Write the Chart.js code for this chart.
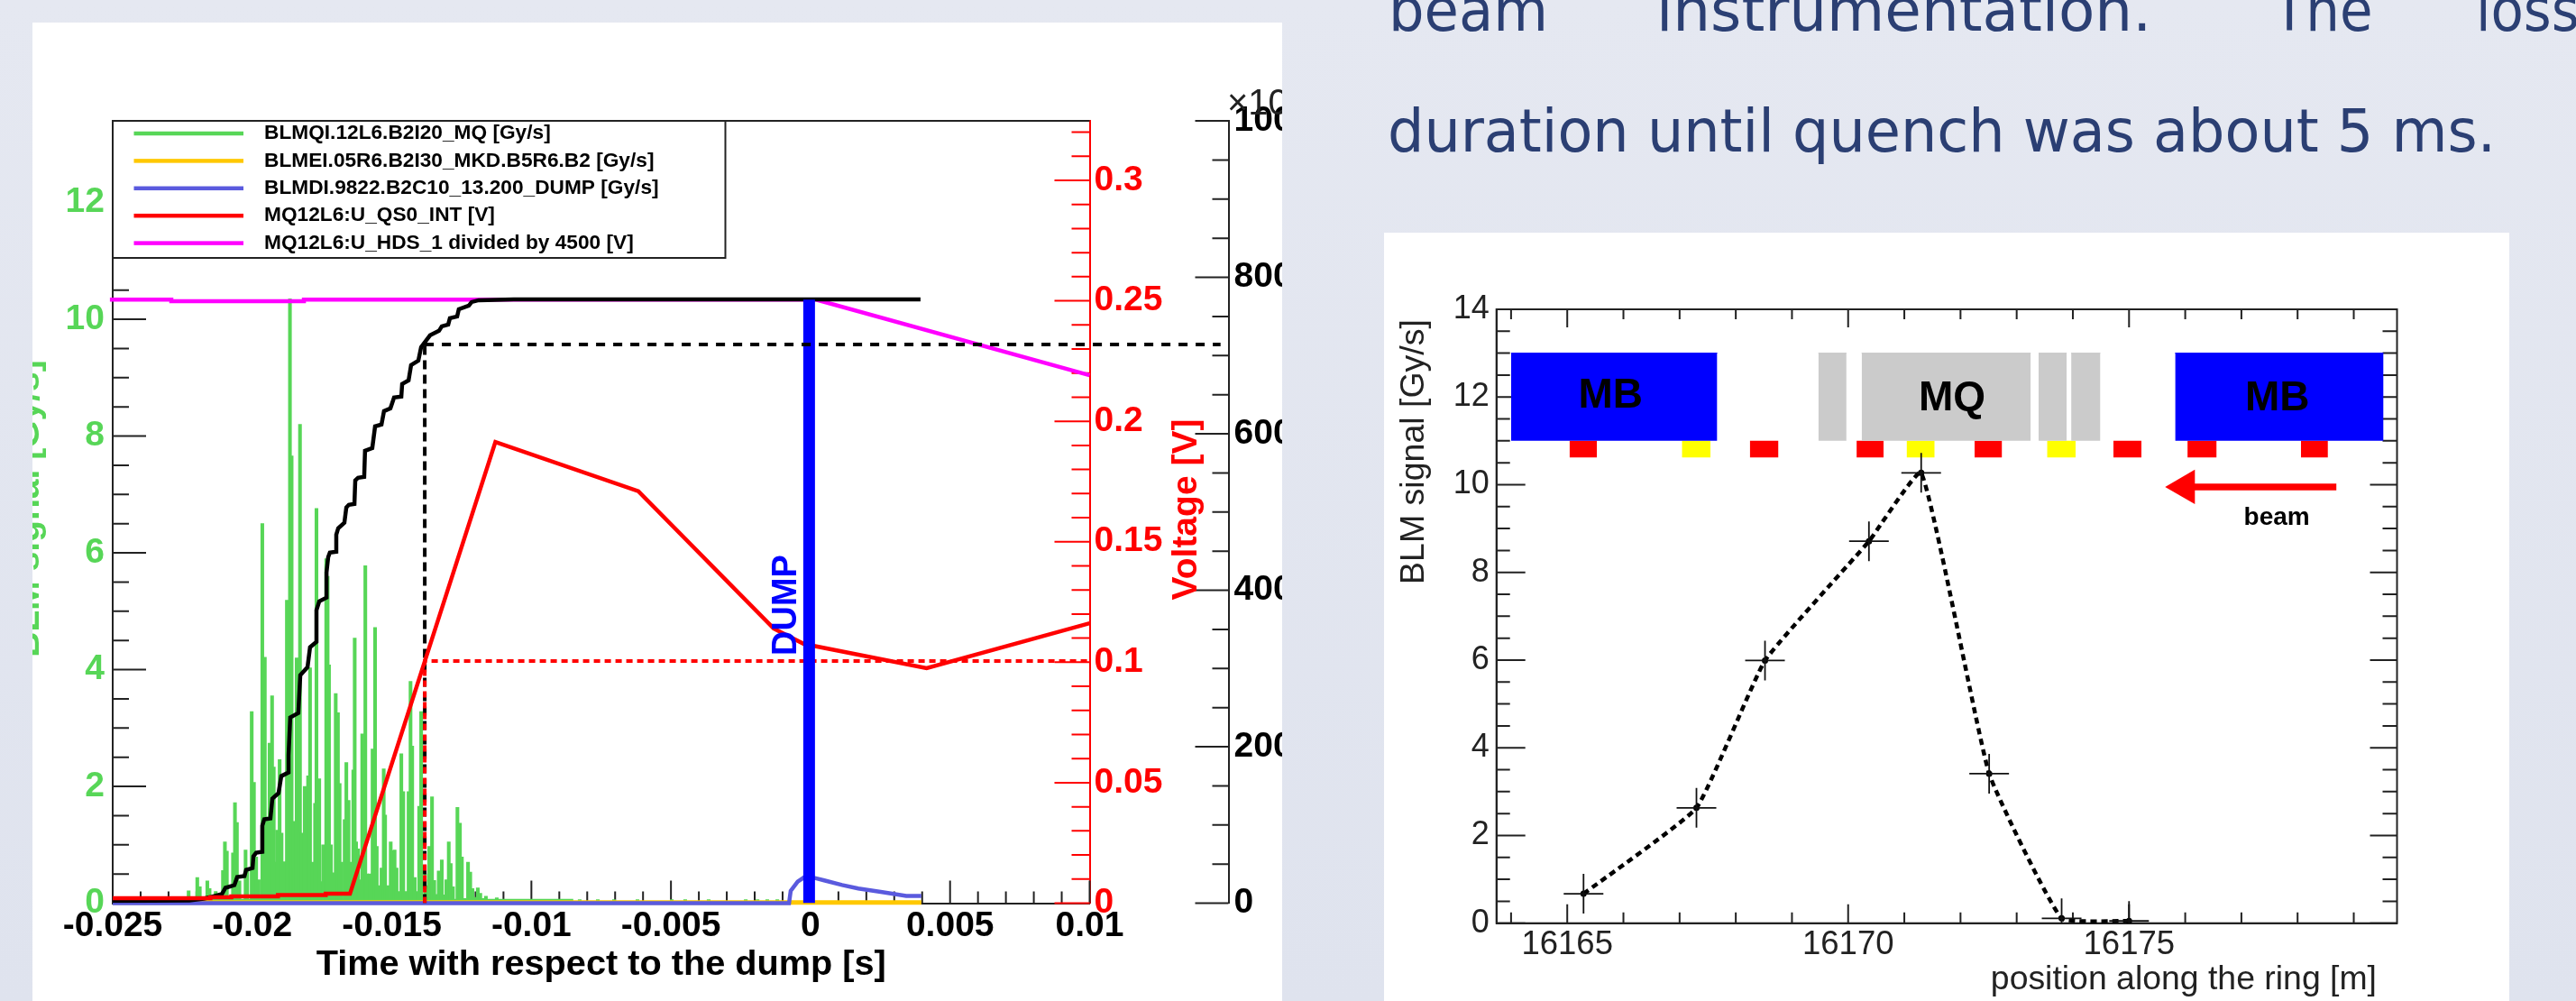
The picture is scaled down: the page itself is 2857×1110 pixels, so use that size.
<!DOCTYPE html>
<html>
<head>
<meta charset="utf-8">
<title>BLM signal and voltage at the quench</title>
<script src="https://cdn.jsdelivr.net/npm/chart.js@4"></script>
<style>
  html, body { margin: 0; padding: 0; }
  body { position: relative; width: 2857px; height: 1110px; overflow: hidden; background: linear-gradient(#e5e8f1, #dfe3ee); }
  canvas { position: absolute; background: #fff; filter: blur(0.6px); }
  #timeChart { left: 36px; top: 25px; }
  #ringChart { left: 1535px; top: 258px; }
  .slide { position: absolute; font: 66px/80px "DejaVu Sans"; font-stretch: condensed; color: #2b3f73; white-space: nowrap; transform-origin: left; }
</style>
</head>
<body>
<span class="slide" style="left:1540px;top:-28px;transform:scaleX(1.05)">beam</span>
<span class="slide" style="left:1837px;top:-28px;transform:scaleX(1.11)">instrumentation.</span>
<span class="slide" style="left:2521px;top:-28px">The</span>
<span class="slide" style="left:2746px;top:-28px">loss</span>
<span class="slide" style="left:1539px;top:106px;transform:scaleX(1.0714)">duration until quench was about 5 ms.</span>
<canvas id="timeChart" width="1386" height="1085"></canvas>
<canvas id="ringChart" width="1248" height="852"></canvas>
<script>
// left plot: time around the dump
const timeTickLabels = ['-0.025', '-0.02', '-0.015', '-0.01', '-0.005', '0', '0.005', '0.01'];
const doseTickLabels = ['0', '2', '4', '6', '8', '10', '12'];
const voltTickLabels = ['0', '0.05', '0.1', '0.15', '0.2', '0.25', '0.3'];
const sumTickLabels = ['0', '200', '400', '600', '800', '1000'];

const legendNames = [
    'BLMQI.12L6.B2I20_MQ [Gy/s]',
    'BLMEI.05R6.B2I30_MKD.B5R6.B2 [Gy/s]',
    'BLMDI.9822.B2C10_13.200_DUMP [Gy/s]',
    'MQ12L6:U_QS0_INT [V]',
    'MQ12L6:U_HDS_1 divided by 4500 [V]'
];
const legendColors = ['#57d657', '#ffc800', '#5a5ade', '#ff0000', '#ff00ff'];

const greenTimes = [
    -0.02228, -0.02197, -0.02188, -0.02161, -0.02153, -0.02131, -0.02105, -0.02098, -0.02091, -0.02069,
    -0.02062, -0.02055, -0.02046, -0.02024, -0.02018, -0.02002, -0.01994, -0.01986, -0.01977, -0.01964,
    -0.01955, -0.01948, -0.01938, -0.01929, -0.01923, -0.01915, -0.01911, -0.01902, -0.01895, -0.01886,
    -0.01876, -0.01865, -0.01859, -0.01852, -0.01848, -0.01841, -0.01829, -0.01822, -0.01812, -0.01800,
    -0.01793, -0.01785, -0.01775, -0.01770, -0.01760, -0.01754, -0.01746, -0.01735, -0.01730, -0.01725,
    -0.01718, -0.01712, -0.01701, -0.01693, -0.01687, -0.01680, -0.01669, -0.01663, -0.01655, -0.01647,
    -0.01638, -0.01633, -0.01628, -0.01621, -0.01615, -0.01606, -0.01600, -0.01595, -0.01589, -0.01579,
    -0.01569, -0.01560, -0.01554, -0.01545, -0.01537, -0.01529, -0.01524, -0.01515, -0.01504, -0.01497,
    -0.01490, -0.01483, -0.01474, -0.01466, -0.01459, -0.01450, -0.01440, -0.01433, -0.01427, -0.01418,
    -0.01408, -0.01402, -0.01395, -0.01389, -0.01381, -0.01376, -0.01366, -0.01356, -0.01348, -0.01340,
    -0.01332, -0.01321, -0.01312, -0.01305, -0.01296, -0.01289, -0.01281, -0.01273, -0.01265, -0.01256,
    -0.01249, -0.01240, -0.01227, -0.01219, -0.01211, -0.01201, -0.01192, -0.01183, -0.01172, -0.01163,
    -0.01143, -0.01124, -0.01108, -0.00827, -0.00762, -0.00704, -0.00620, -0.00497, -0.00449, -0.00365,
    -0.00232, -0.00190, -0.00155, -0.00119
];
const greenValues = [
    0.21, 0.44, 0.28, 0.38, 0.25, 0.2, 0.56, 1.05, 0.89, 0.86,
    1.72, 1.38, 0.38, 0.91, 0.58, 3.28, 2.07, 0.79, 0.4, 6.5,
    4.21, 1.45, 2.74, 3.55, 2.33, 0.7, 1.25, 2.46, 1.2, 0.71,
    5.19, 10.35, 7.66, 1.4, 0.6, 4.2, 8.2, 1.2, 2.0, 2.18,
    4.03, 0.7, 1.71, 6.76, 2.13, 0.37, 1.0, 5.9, 5.6, 4.08,
    1.0, 0.52, 3.59, 3.26, 2.05, 0.7, 1.43, 2.41, 1.76, 0.7,
    2.28, 4.54, 1.05, 0.93, 0.4, 2.9, 0.7, 5.78, 0.5, 0.5,
    2.64, 4.72, 0.97, 0.3, 0.6, 2.3, 1.51, 0.3, 1.05, 0.9,
    0.91, 0.6, 0.2, 2.56, 1.91, 0.2, 1.91, 3.8, 2.69, 0.44,
    0.2, 1.66, 3.28, 0.05, 0.5, 0.3, 0.97, 1.82, 0.39, 0.15,
    0.55, 0.74, 0.14, 0.4, 1.05, 0.68, 0.28, 0.06, 1.64, 1.37,
    0.79, 0.08, 0.7, 0.53, 0.25, 0.1, 0.26, 0.17, 0.08, 0.12,
    0.06, 0.09, 0.05, 0.06, 0.06, 0.06, 0.06, 0.06, 0.06, 0.06,
    0.06, 0.06, 0.06, 0.06
];
const greenBaseTimes = [-0.0223, -0.0085];
const greenBaseValues = [0.05, 0.05];

const yellowTimes = [-0.025, 0.00397];
const yellowValues = [0.01, 0.01];

const blueTimes = [-0.025, -0.00077, -0.00071, -0.00046, -0.00024, 0.00016, 0.00049, 0.00113, 0.00171, 0.00257, 0.00343, 0.00397];
const blueValues = [0, 0, 0.21, 0.37, 0.44, 0.43, 0.39, 0.31, 0.25, 0.19, 0.125, 0.125];

const redTimes = [-0.025, -0.02150, -0.02150, -0.02075, -0.02075, -0.01908, -0.01908, -0.01737, -0.01737, -0.01650, -0.01129, -0.00617, -0.00132, -0.00024, 0.00416, 0.01];
const redValues = [0.0021, 0.0021, 0.0024, 0.0024, 0.0028, 0.0028, 0.0034, 0.0034, 0.0039, 0.0039, 0.1914, 0.1710, 0.1140, 0.1076, 0.0975, 0.1162];

const magentaTimes = [-0.0251, -0.0229, -0.0229, -0.01815, -0.01815, 0.0002, 0.01];
const magentaValues = [0.2505, 0.2505, 0.2498, 0.2498, 0.2505, 0.2505, 0.2191];

const sumTimes = [
    -0.025, -0.02225, -0.02174, -0.02145, -0.02109, -0.02096, -0.02064, -0.02054, -0.02028, -0.02022,
    -0.01999, -0.01996, -0.01986, -0.01964, -0.01964, -0.01957, -0.01935, -0.01928, -0.01906, -0.01896,
    -0.01870, -0.01870, -0.01864, -0.01835, -0.01828, -0.01802, -0.01793, -0.01770, -0.01770, -0.01760,
    -0.01734, -0.01734, -0.01728, -0.01722, -0.01699, -0.01699, -0.01692, -0.01670, -0.01663, -0.01654,
    -0.01634, -0.01631, -0.01621, -0.01599, -0.01596, -0.01570, -0.01560, -0.01537, -0.01528, -0.01505,
    -0.01492, -0.01466, -0.01463, -0.01440, -0.01431, -0.01405, -0.01395, -0.01363, -0.01331, -0.01321,
    -0.01298, -0.01292, -0.01266, -0.01260, -0.01224, -0.01214, -0.01189, -0.01063, 0.00394
];
const sumValues = [
    2.9, 3.5, 5.8, 8.1, 11.5, 19.6, 23, 33.4, 34.6, 42.6,
    44.9, 59.9, 64.5, 65.7, 99.1, 107.1, 108.3, 133.6, 140.6, 162.4,
    167, 188.9, 237.3, 243.1, 291.5, 301.8, 327.2, 334.1, 374.4, 385.9,
    390.6, 422.8, 442.4, 448.2, 449.3, 471.2, 479.3, 486.2, 505.8, 509.2,
    510.4, 540.3, 543.8, 544.9, 578.3, 581.8, 609.4, 611.8, 629, 632.5,
    646.3, 647.5, 663.6, 668.2, 687.8, 693.5, 710.8, 725.8, 731.6, 737.3,
    739.6, 747.7, 750, 759.2, 763.8, 768.4, 770.7, 771.9, 771.9
];

const quenchTime = -0.01382;
const quenchVoltage = 0.1005;
const quenchSum = 714;
const sumGuideEnd = 0.01469;
const dumpTime = -0.00005;
const dumpTop = 0.2505;

// right plot: position along the ring
const posTickLabels = ['16165', '16170', '16175'];
const signalTickLabels = ['0', '2', '4', '6', '8', '10', '12', '14'];
const blmPositions = [16165.29, 16167.3, 16168.52, 16170.37, 16171.3, 16172.51, 16173.8, 16175];
const blmSignals = [0.67, 2.63, 5.99, 8.71, 10.27, 3.41, 0.11, 0.05];

const magnetStarts = [16164.0, 16169.47, 16170.24, 16173.39, 16173.97, 16175.82];
const magnetEnds = [16167.67, 16169.97, 16173.25, 16173.89, 16174.49, 16179.53];
const magnetColors = ['#0000ff', '#cbcbcb', '#cbcbcb', '#cbcbcb', '#cbcbcb', '#0000ff'];
const monitorStarts = [16165.04, 16167.04, 16168.25, 16170.15, 16171.04, 16172.25, 16173.54, 16174.72, 16176.04, 16178.06];
const monitorEnds = [16165.53, 16167.55, 16168.76, 16170.63, 16171.54, 16172.74, 16174.05, 16175.22, 16176.56, 16178.54];
const monitorColors = ['#ff0000', '#ffff00', '#ff0000', '#ff0000', '#ffff00', '#ff0000', '#ffff00', '#ff0000', '#ff0000', '#ff0000'];
const noteTexts = ['MB', 'MQ', 'MB', 'beam'];
const notePositions = [16165.77, 16171.85, 16177.64, 16177.63];
const noteSignals = [12.02, 11.95, 11.95, 9.25];
const arrowTail = [16178.69, 16176.03];
const arrowLevel = 9.95;
const arrowHead = 16175.995;

const SANS = '"Liberation Sans"';
const boldFont = size => ({ family: SANS, size: size, weight: 'bold' });
const plainFont = size => ({ family: SANS, size: size, weight: 'normal' });
const pts = (xs, ys) => xs.map((x, i) => ({ x: x, y: ys[i] }));
const onlyLabels = list => value => list.includes(String(value)) ? String(value) : '';

function line(label, data, color, width, axis, extra) {
    return Object.assign({
        type: 'line', label: label, data: data, borderColor: color, backgroundColor: color,
        borderWidth: width, pointRadius: 0, tension: 0, yAxisID: axis, fill: false
    }, extra || {});
}

// chart.js has one tick length per axis, these axes have two
function tickMarks(ctx, scale, labels, from, dir, bigLen, smallLen, color, width, skip) {
    ctx.save();
    ctx.strokeStyle = color;
    ctx.lineWidth = width;
    ctx.beginPath();
    scale.ticks.forEach(t => {
        if (skip && skip(t.value)) return;
        const p = scale.getPixelForValue(t.value);
        const len = labels.includes(String(t.value)) ? bigLen : smallLen;
        if (scale.isHorizontal()) {
            ctx.moveTo(p, from);
            ctx.lineTo(p, from + dir * len);
        } else {
            ctx.moveTo(from, p);
            ctx.lineTo(from + dir * len, p);
        }
    });
    ctx.stroke();
    ctx.restore();
}

function putText(ctx, text, x, y, font, color, align, turned) {
    ctx.save();
    ctx.translate(x, y);
    if (turned) ctx.rotate(-Math.PI / 2);
    ctx.font = font;
    ctx.fillStyle = color;
    ctx.textAlign = align;
    ctx.textBaseline = 'alphabetic';
    ctx.fillText(text, 0, 0);
    ctx.restore();
}

const timePlugin = {
    id: 'timeExtras',
    beforeDatasetsDraw(chart) {
        const { ctx, chartArea: a, scales } = chart;
        tickMarks(ctx, scales.x, timeTickLabels, a.bottom, -1, 25, 13, '#222', 2);
        tickMarks(ctx, scales.yL, doseTickLabels, a.left, 1, 37, 18, '#222', 2, v => v > 10.5);
        tickMarks(ctx, scales.yR, voltTickLabels, a.right, -1, 39, 20, '#ff0000', 2);
        tickMarks(ctx, scales.yB, sumTickLabels, scales.yB.left, -1, 37, 18, '#222', 2);
        ctx.save();
        ctx.strokeStyle = '#222';
        ctx.lineWidth = 2;
        ctx.beginPath();
        ctx.moveTo(a.left, a.top);
        ctx.lineTo(a.right, a.top);
        ctx.moveTo(768.5, a.top);
        ctx.lineTo(768.5, 261);
        ctx.lineTo(a.left, 261);
        ctx.stroke();
        // legend entries
        legendNames.forEach((name, i) => {
            const y = 123 + i * 30.4;
            ctx.fillStyle = legendColors[i];
            ctx.fillRect(112.5, y - 2.25, 121.5, 4.5);
            ctx.font = 'bold 22.7px ' + SANS;
            ctx.fillStyle = '#000';
            ctx.textBaseline = 'middle';
            ctx.fillText(name, 257, y);
        });
        ctx.restore();
    },
    afterDatasetsDraw(chart) {
        const { ctx } = chart;
        putText(ctx, 'BLM signal [Gy/s]', 7, 539, 'bold 39px ' + SANS, '#57d657', 'center', true);
        putText(ctx, 'Voltage [V]', 1291, 540, 'bold 39px ' + SANS, '#ff0000', 'center', true);
        putText(ctx, 'DUMP', 847, 646, 'bold 38px ' + SANS, '#0000ff', 'center', true);
        putText(ctx, '×10³', 1325, 102, '40px ' + SANS, '#222', 'left', false);
    }
};

new Chart(document.getElementById('timeChart').getContext('2d'), {
    type: 'line',
    data: {
        datasets: [
            line('sum guide', [{ x: quenchTime, y: quenchSum }, { x: sumGuideEnd, y: quenchSum }], '#000', 4, 'yB', { borderDash: [10, 9], clip: false }),
            line('DUMP', [{ x: dumpTime, y: 0 }, { x: dumpTime, y: dumpTop }], '#0000ff', 13, 'yR'),
            line('red guide', [{ x: quenchTime, y: 0 }, { x: quenchTime, y: quenchVoltage }, { x: 0.01, y: quenchVoltage }], '#ff0000', 4, 'yR', { borderDash: [7, 5] }),
            line(legendNames[3], pts(redTimes, redValues), '#ff0000', 4.5, 'yR'),
            line('sum', pts(sumTimes, sumValues), '#000', 4.5, 'yB'),
            line('sum drop', [{ x: quenchTime, y: 0 }, { x: quenchTime, y: quenchSum }], '#000', 4, 'yB', { borderDash: [10, 6] }),
            line(legendNames[4], pts(magentaTimes, magentaValues), '#ff00ff', 4.5, 'yR', { clip: false }),
            line(legendNames[2], pts(blueTimes, blueValues), '#5a5ade', 4.5, 'yL', { clip: false }),
            line(legendNames[1], pts(yellowTimes, yellowValues), '#ffc800', 5, 'yL', { clip: false }),
            line('base', pts(greenBaseTimes, greenBaseValues), '#57d657', 3, 'yL'),
            { type: 'bar', label: legendNames[0], data: pts(greenTimes, greenValues), backgroundColor: '#57d657', barThickness: 3.4, yAxisID: 'yL' }
        ]
    },
    options: {
        responsive: false,
        animation: false,
        events: [],
        layout: { padding: { top: 109 } },
        plugins: { tooltip: { enabled: false }, legend: { display: false } },
        scales: {
            x: {
                type: 'linear', min: -0.025, max: 0.01, offset: false,
                border: { color: '#222', width: 2 },
                grid: { drawOnChartArea: false, drawTicks: false, offset: false },
                ticks: { stepSize: 0.001, precision: 3, includeBounds: false, autoSkip: false, maxRotation: 0, padding: 2, color: '#000', font: boldFont(39), callback: onlyLabels(timeTickLabels) },
                title: { display: true, text: 'Time with respect to the dump [s]', color: '#000', font: boldFont(39.7), padding: { top: 0, bottom: 16 } },
                afterFit: s => { s.height = 108.5; }
            },
            yL: {
                type: 'linear', position: 'left', min: 0, max: 13.4,
                border: { color: '#222', width: 2 },
                grid: { drawOnChartArea: false, drawTicks: false },
                ticks: { stepSize: 0.5, precision: 1, includeBounds: false, autoSkip: false, padding: 9, color: '#57d657', font: boldFont(39), callback: onlyLabels(doseTickLabels) },
                afterFit: s => { s.width = 89; }
            },
            yR: {
                type: 'linear', position: 'right', weight: 1, min: 0, max: 0.3247,
                border: { color: '#ff0000', width: 2 },
                grid: { drawOnChartArea: false, drawTicks: false },
                ticks: { stepSize: 0.01, precision: 2, includeBounds: false, autoSkip: false, padding: 5, color: '#ff0000', font: boldFont(39), callback: onlyLabels(voltTickLabels) },
                afterFit: s => { s.width = 154; }
            },
            yB: {
                type: 'linear', position: 'right', weight: 2, min: 0, max: 1000,
                border: { color: '#222', width: 2 },
                grid: { drawOnChartArea: false, drawTicks: false },
                ticks: { stepSize: 50, precision: 0, includeBounds: false, autoSkip: false, padding: 6, color: '#000', font: boldFont(39), callback: onlyLabels(sumTickLabels) },
                afterFit: s => { s.width = 59.5; }
            }
        }
    },
    plugins: [timePlugin]
});

const ringPlugin = {
    id: 'ringExtras',
    beforeDatasetsDraw(chart) {
        const { ctx, chartArea: a, scales } = chart;
        tickMarks(ctx, scales.x, posTickLabels, a.bottom, -1, 21, 12, '#222', 2);
        tickMarks(ctx, scales.x, posTickLabels, a.top, 1, 20, 11, '#222', 2);
        tickMarks(ctx, scales.y, signalTickLabels, a.left, 1, 32, 15, '#222', 2);
        tickMarks(ctx, scales.y, signalTickLabels, a.right, -1, 30, 16, '#222', 2);
        ctx.save();
        ctx.strokeStyle = '#222';
        ctx.lineWidth = 2;
        ctx.strokeRect(a.left, a.top, a.right - a.left, a.bottom - a.top);
        ctx.restore();
    },
    afterDatasetsDraw(chart) {
        const { ctx, scales } = chart;
        noteTexts.forEach((text, i) => {
            ctx.save();
            ctx.font = 'bold ' + (text === 'beam' ? 28 : 46) + 'px ' + SANS;
            ctx.fillStyle = '#000';
            ctx.textAlign = 'center';
            ctx.textBaseline = 'middle';
            ctx.fillText(text, scales.x.getPixelForValue(notePositions[i]), scales.y.getPixelForValue(noteSignals[i]));
            ctx.restore();
        });
        putText(ctx, 'BLM signal [Gy/s]', 44, 243, '37.5px ' + SANS, '#222', 'center', true);
        putText(ctx, 'position along the ring [m]', 1101, 839, '37.4px ' + SANS, '#222', 'right', false);
    }
};

const ringDatasets = [
    line('crosses', pts(blmPositions, blmSignals), '#111', 1.6, 'y', { showLine: false, pointStyle: 'cross', pointRadius: 22, pointBorderWidth: 1.8, pointBorderColor: '#111' }),
    line('dots', pts(blmPositions, blmSignals), '#000', 0, 'y', { showLine: false, pointRadius: 3.5, pointBackgroundColor: '#000', pointBorderWidth: 0 }),
    line('BLM signal', pts(blmPositions, blmSignals), '#000', 4.5, 'y', { borderDash: [7, 5], tension: 0.12 }),
    line('arrow head', [{ x: arrowHead, y: arrowLevel }], '#ff0000', 0, 'y', { showLine: false, pointStyle: 'triangle', pointRadius: 22, pointRotation: -90, pointBackgroundColor: '#ff0000', pointBorderWidth: 0 }),
    line('arrow', [{ x: arrowTail[0], y: arrowLevel }, { x: arrowTail[1], y: arrowLevel }], '#ff0000', 7.5, 'y')
];
magnetStarts.forEach((start, i) => {
    ringDatasets.push(line('magnet', [{ x: start, y: 13 }, { x: magnetEnds[i], y: 13 }], magnetColors[i], 1, 'y', { fill: { value: 11 } }));
});
monitorStarts.forEach((start, i) => {
    ringDatasets.push(line('monitor', [{ x: start, y: 11 }, { x: monitorEnds[i], y: 11 }], monitorColors[i], 0, 'y', { fill: { value: 10.62 } }));
});

new Chart(document.getElementById('ringChart').getContext('2d'), {
    type: 'line',
    data: { datasets: ringDatasets },
    options: {
        responsive: false,
        animation: false,
        events: [],
        layout: { padding: { top: 85, right: 124.5 } },
        plugins: { legend: { display: false }, tooltip: { enabled: false } },
        scales: {
            x: {
                type: 'linear', min: 16163.74, max: 16179.77,
                border: { color: '#222', width: 2 },
                grid: { drawOnChartArea: false, drawTicks: false },
                ticks: { stepSize: 1, precision: 0, includeBounds: false, autoSkip: false, maxRotation: 0, padding: 2, color: '#222', font: plainFont(36.5), callback: onlyLabels(posTickLabels) },
                afterFit: s => { s.height = 86.3; }
            },
            y: {
                type: 'linear', position: 'left', min: 0, max: 14,
                border: { color: '#222', width: 2 },
                grid: { drawOnChartArea: false, drawTicks: false },
                ticks: { stepSize: 0.5, precision: 1, includeBounds: false, autoSkip: false, padding: 8, color: '#222', font: plainFont(36), callback: onlyLabels(signalTickLabels) },
                afterFit: s => { s.width = 124.7; }
            }
        }
    },
    plugins: [ringPlugin]
});
</script>
</body>
</html>
